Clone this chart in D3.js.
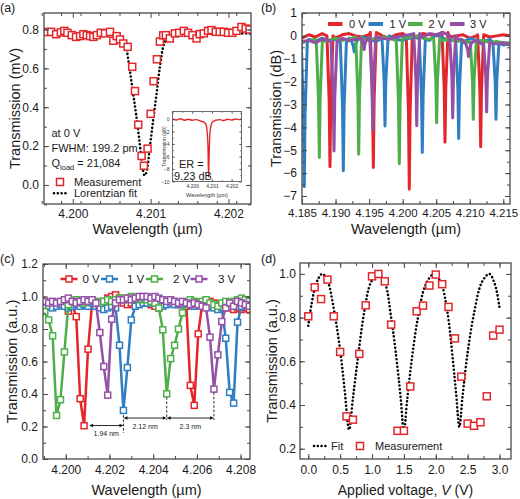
<!DOCTYPE html>
<html><head><meta charset="utf-8">
<script src="https://cdn.jsdelivr.net/npm/d3@7"></script>
<style>
body{margin:0;background:#fff;}
svg{display:block;font-family:"Liberation Sans",Arial,Helvetica,sans-serif;}
</style></head><body>
<svg id="chart" width="520" height="499"></svg>
<script>
// ================= DATA =================
// Panel (a): resonance at 0 V
const aMeasWl=[4.199667,4.199722,4.199786,4.199846,4.199892,4.199931,4.199987,4.200042,4.200094,4.200136,4.200179,4.200222,4.200264,4.200308,4.200359,4.200414,4.200478,4.200521,4.200564,4.200606,4.200649,4.200705,4.200764,4.200799,4.200841,4.200884,4.200914,4.200961,4.201000,4.201038,4.201081,4.201119,4.201162,4.201196,4.201247,4.201312,4.201367,4.201427,4.201482,4.201538,4.201590,4.201632,4.201683,4.201738,4.201782,4.201837,4.201888,4.201940,4.201995,4.202051,4.202103,4.202167,4.202222,4.202270];
const aMeasT=[0.787,0.788,0.776,0.785,0.793,0.783,0.771,0.762,0.766,0.776,0.771,0.766,0.762,0.771,0.783,0.780,0.788,0.742,0.766,0.749,0.728,0.711,0.608,0.483,0.310,0.149,0.099,0.187,0.366,0.534,0.647,0.738,0.770,0.771,0.754,0.780,0.783,0.793,0.783,0.771,0.754,0.776,0.780,0.793,0.797,0.788,0.788,0.788,0.783,0.783,0.793,0.813,0.805,0.800];
const aFitWl=[4.19963,4.2001,4.2004,4.2006,4.200683,4.200726,4.200769,4.200812,4.20085,4.200885,4.20092,4.200949,4.200991,4.201033,4.201077,4.201119,4.201162,4.20123,4.2014,4.2017,4.20229];
const aFitT=[0.78,0.78,0.775,0.76,0.711,0.608,0.488,0.368,0.248,0.128,0.05,0.068,0.197,0.334,0.471,0.608,0.711,0.76,0.775,0.78,0.78];
const aXTicks=[4.200,4.201,4.202];
const aYTicks=[0.0,0.2,0.4,0.6,0.8];
// inset of (a)
const insWl=[4.199,4.1992,4.1994,4.1996,4.1998,4.2000,4.2002,4.2004,4.2006,4.2007,4.20075,4.2008,4.20083,4.20086,4.2009,4.20095,4.201,4.2011,4.2012,4.2014,4.2016,4.2018,4.2020,4.2022,4.2024,4.2025];
const insDb=[0.0,-0.15,0.05,-0.2,-0.05,-0.2,-0.1,-0.3,-0.5,-0.9,-1.8,-4.5,-9.3,-5.5,-2.2,-1.1,-0.6,-0.35,-0.2,-0.1,-0.25,-0.05,-0.15,0.0,-0.1,0.0];
const insXTicks=[4.200,4.201,4.202];
const insYTicks=[0,-2,-4,-6,-8,-10];

// Panel (b): full spectra (dB)
const bWl=[4.185,4.186,4.187,4.188,4.189,4.190,4.191,4.192,4.193,4.194,4.195,4.196,4.197,4.198,4.199,4.200,4.201,4.202,4.203,4.204,4.205,4.206,4.207,4.208,4.209,4.210,4.211,4.212,4.213,4.214,4.215,4.216];
const bBase0=[-0.1,0.05,-0.05,0.1,0.0,-0.1,0.05,0.1,0.0,-0.05,0.05,0.15,0.0,-0.1,0.05,0.1,0.0,-0.05,0.1,0.05,0.0,0.15,-0.05,0.0,0.05,-0.1,0.0,0.05,-0.05,0.0,0.05,0.0];
const bBase1=[-0.3,-0.15,-0.25,-0.1,-0.2,-0.15,-0.3,-0.1,-0.2,-0.05,-0.15,-0.25,-0.1,0.0,-0.15,-0.2,-0.1,-0.05,-0.15,-0.2,0.05,-0.1,-0.2,-0.15,-0.3,-0.1,-0.2,-0.25,-0.15,-0.3,-0.4,-0.35];
const bBase2=[-0.3,-0.2,-0.15,-0.25,-0.2,-0.1,-0.2,-0.15,-0.05,-0.2,-0.1,-0.15,-0.05,-0.1,-0.2,-0.1,-0.05,0.0,-0.1,-0.15,-0.1,-0.2,-0.15,-0.25,-0.2,-0.3,-0.25,-0.2,-0.3,-0.25,-0.3,-0.3];
const bBase3=[-0.25,-0.2,-0.3,-0.15,-0.2,-0.25,-0.1,-0.2,-0.15,-0.1,-0.2,-0.05,-0.1,-0.15,-0.05,0.0,0.05,0.1,-0.05,0.1,0.05,0.15,0.0,-0.1,-0.2,-0.3,-0.2,-0.4,-0.3,-0.35,-0.3,-0.4];
const bDip0=[4.18917,4.19563,4.20099,4.20631,4.21163];
const bDep0=[-5.72,-5.75,-6.7,-4.65,-4.85];
const bDip1=[4.18534,4.19116,4.19278,4.19737,4.20293,4.20835,4.21391];
const bDep1=[-6.59,-5.9,-0.7,-3.94,-5.1,-4.49,-3.65];
const bDip2=[4.18758,4.19345,4.1995,4.20507,4.21053];
const bDep2=[-5.32,-5.17,-5.59,-3.8,-3.65];
const bDip3=[4.18977,4.19554,4.19426,4.2021,4.20746,4.20981,4.21252];
const bDep3=[-5.03,-4.1,-0.6,-3.93,-3.59,-0.9,-3.33];
const bDipShape=[[-0.00045,0],[-0.00012,0.5],[0,1],[0.00012,0.5],[0.00045,0]];
const bXTicks=[4.185,4.190,4.195,4.200,4.205,4.210,4.215];
const bYTicks=[1,0,-1,-2,-3,-4,-5,-6,-7];

// Panel (c): zoomed spectra (a.u.)
const cWl=[4.19904,4.19922,4.19940,4.19958,4.19976,4.19994,4.20012,4.20030,4.20048,4.20066,4.20084,4.20102,4.20120,4.20138,4.20156,4.20174,4.20192,4.20210,4.20228,4.20246,4.20264,4.20282,4.20300,4.20318,4.20336,4.20354,4.20372,4.20390,4.20408,4.20426,4.20444,4.20462,4.20480,4.20498,4.20516,4.20534,4.20552,4.20570,4.20588,4.20606,4.20624,4.20642,4.20660,4.20678,4.20696,4.20714,4.20732,4.20750,4.20768,4.20786,4.20804,4.20822,4.20840];
const c0V=[0.96,0.95,0.96,0.95,0.96,0.95,0.91,0.95,0.876,0.371,0.205,0.676,0.95,0.96,0.95,0.97,0.99,1.0,1.01,0.99,0.96,0.95,0.96,0.95,0.96,0.97,0.96,0.95,0.94,0.93,0.95,0.96,0.97,0.96,0.95,0.96,0.94,0.453,0.33,0.77,0.95,0.96,0.97,0.96,0.95,0.94,0.95,0.93,0.92,0.93,0.92,0.93,0.92];
const c1V=[0.93,0.94,0.93,0.94,0.95,0.94,0.93,0.94,0.95,0.94,0.95,0.94,0.96,0.94,0.93,0.92,0.93,0.94,0.93,0.70,0.299,0.563,0.856,0.94,0.95,0.96,0.96,0.97,0.96,0.95,0.94,0.95,0.96,0.95,0.96,0.95,0.96,0.95,0.94,0.95,0.96,0.95,0.94,0.93,0.92,0.93,0.743,0.41,0.344,0.842,0.94,0.95,0.96];
const c2V=[0.907,0.856,0.758,0.268,0.365,0.659,0.95,0.97,0.98,0.97,0.96,0.97,0.98,0.97,0.96,0.97,0.98,0.97,0.98,0.99,0.98,0.99,1.0,0.99,0.98,0.99,0.98,0.97,0.96,0.93,0.795,0.401,0.618,0.70,0.80,0.90,0.96,0.98,0.97,0.96,0.97,0.98,0.96,0.95,0.94,0.96,0.97,0.96,0.97,0.98,0.99,0.98,0.97];
const c3V=[0.97,0.96,0.97,0.96,0.97,0.98,0.99,0.97,0.96,0.97,0.98,0.97,0.98,0.96,0.778,0.569,0.393,0.86,0.96,0.98,0.98,0.99,0.98,0.99,1.0,1.0,1.0,0.99,1.0,0.99,0.98,0.97,0.98,0.97,0.96,0.97,0.96,0.95,0.96,0.95,0.94,0.93,0.75,0.43,0.641,0.846,0.93,0.96,0.94,0.97,0.96,0.95,0.94];
const cMinWl=[4.20084,4.20264,4.20462,4.20678];
const cGapText=["1.94 nm","2.12 nm","2.3 nm"];
const cXTicks=[4.200,4.202,4.204,4.206,4.208];
const cYTicks=[0.0,0.2,0.4,0.6,0.8,1.0,1.2];

// Panel (d): transmission vs applied voltage
const dV=[0.0,0.1,0.2,0.3,0.4,0.5,0.6,0.7,0.8,0.9,1.0,1.1,1.2,1.3,1.4,1.5,1.6,1.7,1.8,1.9,2.0,2.1,2.2,2.3,2.4,2.5,2.6,2.7,2.8,2.9,3.0];
const dT=[0.806,0.939,0.885,0.974,0.806,0.643,0.348,0.333,0.634,0.856,0.989,1.0,0.966,0.768,0.282,0.282,0.485,0.829,0.855,0.947,0.997,0.953,0.849,0.705,0.53,0.315,0.305,0.321,0.44,0.718,0.745];
const dFitV=[0.0,0.05,0.1,0.16,0.22,0.3,0.4,0.5,0.57,0.64,0.7,0.78,0.88,0.98,1.09,1.2,1.3,1.4,1.45,1.5,1.55,1.62,1.72,1.84,1.97,2.08,2.18,2.27,2.32,2.37,2.42,2.5,2.6,2.72,2.84,2.93,3.0];
const dFitT=[0.763,0.86,0.93,0.98,1.0,0.97,0.84,0.65,0.47,0.287,0.43,0.62,0.83,0.96,1.0,0.96,0.80,0.57,0.43,0.28,0.42,0.60,0.80,0.95,1.0,0.96,0.83,0.60,0.45,0.30,0.44,0.64,0.82,0.96,1.0,0.95,0.845];
const dXTicks=[0.0,0.5,1.0,1.5,2.0,2.5,3.0];
const dYTicks=[0.2,0.4,0.6,0.8,1.0];

const volts=["0 V","1 V","2 V","3 V"];

// ================= STYLE =================
const FONT='"Liberation Sans", Arial, Helvetica, sans-serif';
const RED="#e4262b", BLUE="#2f7ec1", GREEN="#4dae4a", PURPLE="#9450a6";
const COLORS=[RED,BLUE,GREEN,PURPLE];
const AX="#4a4a4a";
const svg=d3.select("#chart");
const defs=svg.append("defs");

function clip(id,x,y){
  defs.append("clipPath").attr("id",id).append("rect")
    .attr("x",x.range()[0]).attr("y",y.range()[1])
    .attr("width",x.range()[1]-x.range()[0]).attr("height",y.range()[0]-y.range()[1]);
  return `url(#${id})`;
}

function axes(g,x,y,o){
  const [L,R]=x.range(); const [B,T]=y.range();
  const add=(axis,tx,ty)=>g.append("g").attr("transform",`translate(${tx},${ty})`).call(axis);
  const mk=(gen,s,vals,size,fmt,pad)=>gen(s).tickValues(vals).tickSizeInner(size).tickSizeOuter(0).tickFormat(fmt).tickPadding(pad||0);
  const none=()=>"";
  add(mk(d3.axisBottom,x,o.xMinor,-o.minor,none),0,B);
  add(mk(d3.axisTop,x,o.xMinor,-o.minor,none),0,T);
  add(mk(d3.axisLeft,y,o.yMinor,-o.minor,none),L,0);
  add(mk(d3.axisRight,y,o.yMinor,-o.minor,none),R,0);
  const xa=add(mk(d3.axisBottom,x,o.xMajor,-o.major,o.xFmt,o.xPad),0,B);
  add(mk(d3.axisTop,x,o.xMajor,-o.major,none),0,T);
  const ya=add(mk(d3.axisLeft,y,o.yMajor,-o.major,o.yFmt,o.yPad),L,0);
  add(mk(d3.axisRight,y,o.yMajor,-o.major,none),R,0);
  g.selectAll(".domain").remove();
  g.selectAll(".tick line").attr("stroke",AX).attr("stroke-width",o.tw||1);
  g.selectAll(".tick text").attr("fill","#1a1a1a").attr("font-family",FONT);
  xa.selectAll(".tick text").attr("font-size",o.xfs||o.fs);
  ya.selectAll(".tick text").attr("font-size",o.fs);
  g.append("rect").attr("x",L).attr("y",T).attr("width",R-L).attr("height",B-T)
    .attr("fill","none").attr("stroke",AX).attr("stroke-width",o.fw||1.3);
}
function txt(g,x,y,s,fs,anchor){
  return g.append("text").attr("x",x).attr("y",y).attr("font-size",fs).attr("font-family",FONT)
    .attr("fill","#1a1a1a").attr("text-anchor",anchor||"start").text(s);
}
function ytitle(g,x,yc,s,fs){
  return g.append("text").attr("transform",`translate(${x},${yc}) rotate(-90)`).attr("text-anchor","middle")
    .attr("font-size",fs).attr("font-family",FONT).attr("fill","#1a1a1a").text(s);
}
function squares(g,pts,x,y,size,color){
  g.selectAll(null).data(pts).join("rect")
    .attr("x",d=>x(d[0])-size/2).attr("y",d=>y(d[1])-size/2)
    .attr("width",size).attr("height",size)
    .attr("fill","#fff").attr("stroke",color).attr("stroke-width",1.5);
}
const dotted=(p)=>p.attr("fill","none").attr("stroke","#000").attr("stroke-width",2.6)
  .attr("stroke-linecap","round").attr("stroke-dasharray","0,3.8");

// ================= PANEL (a) =================
{
  const g=svg.append("g");
  const x=d3.scaleLinear().domain([4.19963,4.20229]).range([44,251]);
  const y=d3.scaleLinear().domain([-0.098,0.885]).range([204,13]);
  const cp=clip("clipA",x,y);
  const fit=aFitWl.map((w,i)=>[w,aFitT[i]]);
  g.append("path").datum(fit).attr("clip-path",cp)
    .attr("d",d3.line().x(d=>x(d[0])).y(d=>y(d[1])).curve(d3.curveMonotoneX)).call(dotted);
  const meas=aMeasWl.map((w,i)=>[w,aMeasT[i]]);
  squares(g.append("g").attr("clip-path",cp),meas,x,y,7,RED);
  axes(g,x,y,{xMajor:aXTicks,xMinor:d3.range(4.1996,4.2023,0.00025),yMajor:aYTicks,yMinor:d3.range(-0.1,0.88,0.1),
    major:5,minor:3,xFmt:d3.format(".3f"),yFmt:d3.format(".1f"),xPad:5,yPad:5,fs:12});
  txt(g,51.5,136.7,"at 0 V",11);
  txt(g,51.5,151.7,"FWHM: 199.2 pm",11);
  const q=txt(g,51.5,167,"Q",11);
  q.append("tspan").attr("font-size",7.5).attr("dy",2.5).text("load");
  q.append("tspan").attr("dy",-2.5).text(" = 21,084");
  // legend
  squares(g,[[60,182]],d=>d,d=>d,7,RED);
  txt(g,74,186,"Measurement",11);
  g.append("path").attr("d","M54,193.3L67,193.3").call(dotted);
  txt(g,74,197,"Lorentzian fit",11);
  ytitle(g,20,108.5,"Transmission (mV)",14.5);
  txt(g,147.5,234,"Wavelength (µm)",14.5,"middle");
  txt(g,0,12,"(a)",12.5);
}
// inset
{
  const g=svg.append("g");
  const x=d3.scaleLinear().domain([4.199,4.2025]).range([172.5,241.5]);
  const y=d3.scaleLinear().domain([-10,1.2]).range([181.5,111.5]);
  g.append("rect").attr("x",172.5).attr("y",111.5).attr("width",69).attr("height",70).attr("fill","#fff");
  const cp=clip("clipIns",x,y);
  g.append("path").datum(insWl.map((w,i)=>[w,insDb[i]])).attr("clip-path",cp)
    .attr("d",d3.line().x(d=>x(d[0])).y(d=>y(d[1])).curve(d3.curveMonotoneX))
    .attr("fill","none").attr("stroke",RED).attr("stroke-width",1.4);
  axes(g,x,y,{xMajor:insXTicks,xMinor:d3.range(4.199,4.2025,0.0005),yMajor:insYTicks,yMinor:d3.range(-10,1.2,1),
    major:2.5,minor:1.5,xFmt:d3.format(".3f"),yFmt:d3.format("d"),xPad:2.5,yPad:3,fs:5,tw:0.6,fw:0.8});
  g.selectAll(".tick text").attr("fill","#333");
  ytitle(g,166,146.5,"Transmission (dB)",5).attr("fill","#333");
  txt(g,207,197,"Wavelength (µm)",5.5,"middle").attr("fill","#333");
  txt(g,179,168,"ER =",11);
  txt(g,174,180,"9.23 dB",11);
}

// ================= PANEL (b) =================
{
  const g=svg.append("g");
  const x=d3.scaleLinear().domain([4.185,4.216]).range([302,510]);
  const y=d3.scaleLinear().domain([-7.35,1]).range([204,13]);
  const cp=clip("clipB",x,y);
  const bases=[bBase0,bBase1,bBase2,bBase3], dips=[bDip0,bDip1,bDip2,bDip3], deps=[bDep0,bDep1,bDep2,bDep3];
  const line=d3.line().x(d=>x(d[0])).y(d=>y(d[1]));
  bases.forEach((base,s)=>{
    const centers=dips[s], depths=deps[s];
    const pts=[];
    bWl.forEach((w,i)=>{ if(!centers.some(c=>Math.abs(w-c)<0.0005)) pts.push([w,base[i]]); });
    centers.forEach((c,k)=>{
      const bi=Math.max(0,Math.min(base.length-1,Math.round((c-bWl[0])/0.001)));
      const b=base[bi];
      bDipShape.forEach(([off,f])=>pts.push([c+off,b+(depths[k]-b)*f]));
    });
    pts.sort((p,q)=>p[0]-q[0]);
    g.append("path").datum(pts).attr("clip-path",cp).attr("d",line)
      .attr("fill","none").attr("stroke",COLORS[s]).attr("stroke-width",3).attr("stroke-linejoin","round");
  });
  axes(g,x,y,{xMajor:bXTicks,xMinor:d3.range(4.185,4.2161,0.0025),yMajor:bYTicks,yMinor:d3.range(-7,1.01,0.5),
    major:5,minor:3,xFmt:d3.format(".3f"),yFmt:d3.format("d"),xPad:5,yPad:5,fs:12,xfs:11.5});
  // legend
  const lx=[328,368.5,408,450], tx=[349,389.5,428.5,470];
  volts.forEach((v,i)=>{
    g.append("line").attr("x1",lx[i]).attr("x2",lx[i]+14.5).attr("y1",24).attr("y2",24)
      .attr("stroke",COLORS[i]).attr("stroke-width",4);
    txt(g,tx[i],28,v,11);
  });
  ytitle(g,281,108.5,"Transmission (dB)",14.5);
  txt(g,406,234,"Wavelength (µm)",14.5,"middle");
  txt(g,261,12,"(b)",12.5);
}

// ================= PANEL (c) =================
{
  const g=svg.append("g");
  const x=d3.scaleLinear().domain([4.19896,4.20843]).range([43,250]);
  const y=d3.scaleLinear().domain([0,1.2]).range([459,264]);
  const cp=clip("clipC",x,y);
  const series=[c0V,c1V,c2V,c3V];
  const line=d3.line().x(d=>x(d[0])).y(d=>y(d[1]));
  series.forEach((vals,s)=>{
    const pts=cWl.map((w,i)=>[w,vals[i]]);
    const gs=g.append("g").attr("clip-path",cp);
    gs.append("path").datum(pts).attr("d",line).attr("fill","none")
      .attr("stroke",COLORS[s]).attr("stroke-width",2.5).attr("stroke-linejoin","round");
    squares(gs,pts,x,y,6,COLORS[s]);
  });
  // annotations
  const ya=y(0.206), yb=y(0.252);
  const arrow=(x1,x2,yy)=>{
    g.append("line").attr("x1",x1+2).attr("x2",x2-2).attr("y1",yy).attr("y2",yy).attr("stroke","#111").attr("stroke-width",0.9);
    g.append("path").attr("d",`M${x1},${yy}L${x1+4},${yy-1.8}L${x1+4},${yy+1.8}Z`).attr("fill","#111");
    g.append("path").attr("d",`M${x2},${yy}L${x2-4},${yy-1.8}L${x2-4},${yy+1.8}Z`).attr("fill","#111");
  };
  const vdash=(xx,y1,y2)=>g.append("line").attr("x1",xx).attr("x2",xx).attr("y1",y1).attr("y2",y2)
    .attr("stroke","#111").attr("stroke-width",0.9).attr("stroke-dasharray","2.5,1.8");
  const xm=cMinWl.map(w=>x(w));
  vdash(xm[1],y(0.27),y(0.16));
  vdash(xm[2],y(0.38),yb+2);
  vdash(xm[3],y(0.41),yb+2);
  arrow(xm[0]+5,xm[1],ya);
  arrow(xm[1],xm[2],yb);
  arrow(xm[2],xm[3],yb);
  txt(g,(xm[0]+5+xm[1])/2,436,cGapText[0],7,"middle");
  txt(g,(xm[1]+xm[2])/2,429,cGapText[1],7,"middle");
  txt(g,(xm[2]+xm[3])/2,429,cGapText[2],7,"middle");
  axes(g,x,y,{xMajor:cXTicks,xMinor:d3.range(4.199,4.2085,0.001),yMajor:cYTicks,yMinor:d3.range(0,1.21,0.1),
    major:5,minor:3,xFmt:d3.format(".3f"),yFmt:d3.format(".1f"),xPad:6,yPad:5,fs:12});
  // legend
  const lx=[60.5,101,146,190.5], tx=[82.5,127,173,218];
  volts.forEach((v,i)=>{
    g.append("line").attr("x1",lx[i]).attr("x2",lx[i]+17).attr("y1",279).attr("y2",279)
      .attr("stroke",COLORS[i]).attr("stroke-width",2.5);
    squares(g,[[lx[i]+8.5,279]],d=>d,d=>d,6,COLORS[i]);
    txt(g,tx[i],283,v,11.5);
  });
  ytitle(g,17,361.5,"Transmission (a.u.)",14.5);
  txt(g,146.5,495,"Wavelength (µm)",14.5,"middle");
  txt(g,0,263,"(c)",12.5);
}

// ================= PANEL (d) =================
{
  const g=svg.append("g");
  const x=d3.scaleLinear().domain([-0.13,3.18]).range([300,511]);
  const y=d3.scaleLinear().domain([0.153,1.05]).range([459,263]);
  const cp=clip("clipD",x,y);
  g.append("path").datum(dFitV.map((v,i)=>[v,dFitT[i]])).attr("clip-path",cp)
    .attr("d",d3.line().x(d=>x(d[0])).y(d=>y(d[1])).curve(d3.curveCatmullRom.alpha(0.5))).call(dotted);
  squares(g.append("g").attr("clip-path",cp),dV.map((v,i)=>[v,dT[i]]),x,y,7,RED);
  axes(g,x,y,{xMajor:dXTicks,xMinor:d3.range(-0.0,3.11,0.25),yMajor:dYTicks,yMinor:d3.range(0.2,1.05,0.1),
    major:5,minor:3,xFmt:d3.format(".1f"),yFmt:d3.format(".1f"),xPad:6,yPad:4,fs:12});
  g.append("path").attr("d","M314,446L327,446").call(dotted);
  txt(g,331,450,"Fit",11);
  squares(g,[[360,446]],d=>d,d=>d,7,RED);
  txt(g,375,450,"Measurement",11);
  ytitle(g,277,361,"Transmission (a.u.)",14.5);
  const t=txt(g,405.5,495,"Applied voltage, ",14,"middle");
  t.append("tspan").attr("font-style","italic").text("V");
  t.append("tspan").text(" (V)");
  txt(g,261,263,"(d)",12.5);
}
</script>
</body></html>
